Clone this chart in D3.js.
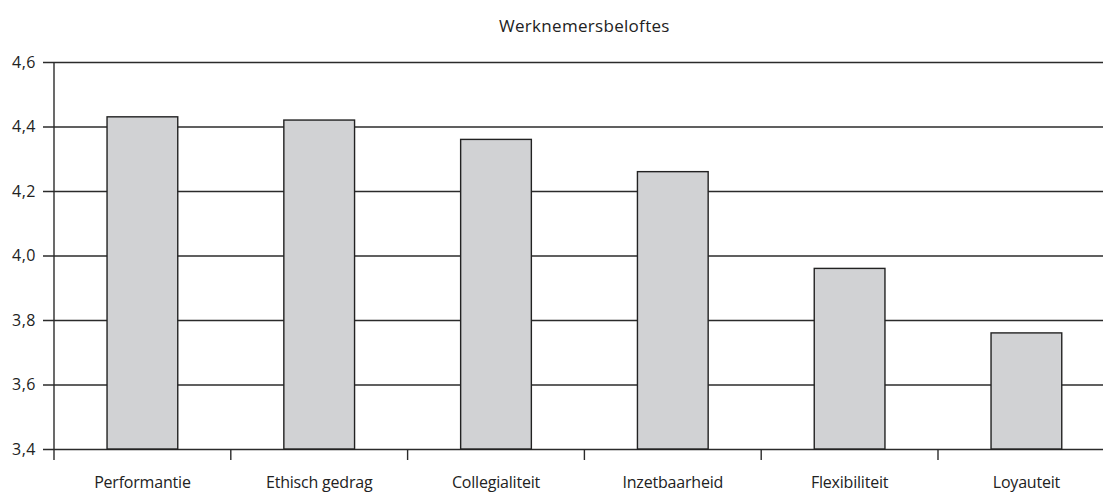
<!DOCTYPE html>
<html>
<head>
<meta charset="utf-8">
<script src="https://cdn.jsdelivr.net/npm/d3@7"></script>
<style>
  body { margin: 0; background: #fff; }
  svg text { font-family: "Open Sans", sans-serif; fill: #222; }
</style>
</head>
<body>
<svg id="chart"></svg>
<script>
document.addEventListener("DOMContentLoaded", function(){
    const categories = ["Performantie", "Ethisch gedrag", "Collegialiteit", "Inzetbaarheid", "Flexibiliteit", "Loyauteit"];
    const values = [4.43, 4.42, 4.36, 4.26, 3.96, 3.76];
    const yTicks = [3.4, 3.6, 3.8, 4.0, 4.2, 4.4, 4.6];
    const title = "Werknemersbeloftes";

    const width = 1103;
    const height = 494;
    const left = 54;
    const top = 62;
    const bottom = 449;
    const xEnd = left + 6 * 176.8;

    const data = categories.map((c, i) => ({ name: c, value: values[i] }));

    const xScale = d3.scaleBand()
        .domain(categories)
        .range([left, xEnd])
        .paddingInner(0.6)
        .paddingOuter(0.3);

    const yScale = d3.scaleLinear()
        .domain([3.4, 4.6])
        .range([bottom, top]);

    const svg = d3.select("#chart")
        .attr("width", width)
        .attr("height", height);

    const fmt = d => d3.format(".1f")(d).replace(".", ",");

    // grid lines + left ticks
    const yAxis = d3.axisLeft(yScale)
        .tickValues(yTicks)
        .tickSize(-(width - left))
        .tickPadding(18)
        .tickFormat(fmt);
    const gy = svg.append("g")
        .attr("transform", "translate(" + left + ",0)")
        .call(yAxis);
    gy.select(".domain").remove();
    gy.selectAll(".tick line")
        .attr("x1", -11)
        .attr("stroke", "#2b2b2b")
        .attr("stroke-width", 1.4);
    gy.selectAll(".tick text")
        .attr("x", -18)
        .style("font-size", "16px")
        .style("letter-spacing", "0.5px");

    // bars
    svg.selectAll("rect.bar")
        .data(data)
        .enter()
        .append("rect")
        .attr("class", "bar")
        .attr("x", d => xScale(d.name))
        .attr("width", xScale.bandwidth())
        .attr("y", d => yScale(d.value))
        .attr("height", d => yScale(3.4) - yScale(d.value))
        .attr("fill", "#d1d2d4")
        .attr("stroke", "#222")
        .attr("stroke-width", 1.4);

    // vertical axis line
    svg.append("line")
        .attr("x1", left).attr("x2", left)
        .attr("y1", top).attr("y2", bottom + 11)
        .attr("stroke", "#2b2b2b")
        .attr("stroke-width", 1.4);

    // category boundary ticks
    svg.selectAll("line.xtick")
        .data(categories.slice(1))
        .enter()
        .append("line")
        .attr("class", "xtick")
        .attr("x1", (d) => xScale(d) - xScale.bandwidth() * 0.75)
        .attr("x2", (d) => xScale(d) - xScale.bandwidth() * 0.75)
        .attr("y1", bottom)
        .attr("y2", bottom + 11)
        .attr("stroke", "#2b2b2b")
        .attr("stroke-width", 1.4);

    // category labels
    svg.selectAll("text.xlabel")
        .data(categories)
        .enter()
        .append("text")
        .attr("class", "xlabel")
        .attr("x", d => xScale(d) + xScale.bandwidth() / 2)
        .attr("y", 488)
        .attr("text-anchor", "middle")
        .style("font-size", "16px")
        .style("letter-spacing", "-0.2px")
        .text(d => d);

    // title
    svg.append("text")
        .attr("x", (left + xEnd) / 2)
        .attr("y", 32)
        .attr("text-anchor", "middle")
        .style("font-size", "17px")
        .style("letter-spacing", "0.3px")
        .text(title);
});
</script>
</body>
</html>
